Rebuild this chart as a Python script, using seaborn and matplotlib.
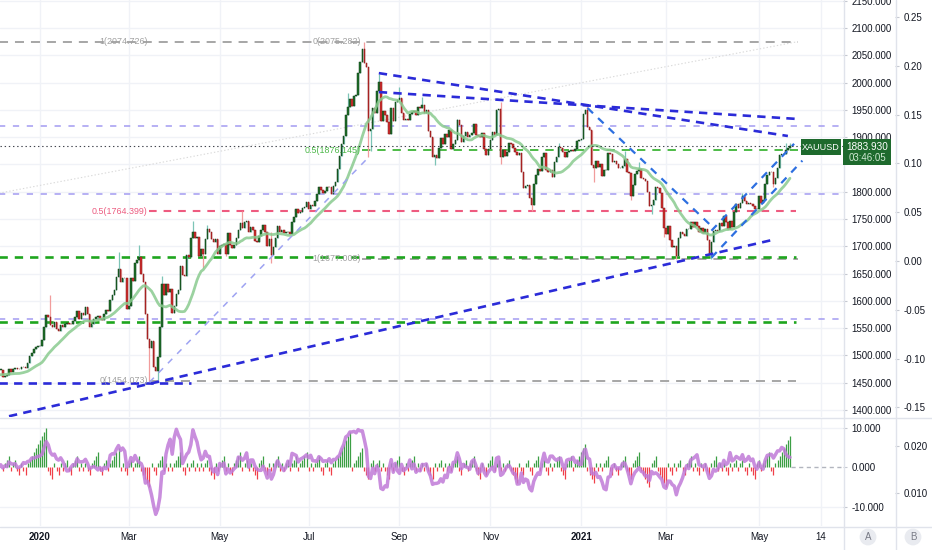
import numpy as np
import pandas as pd
import matplotlib
matplotlib.use("Agg")
import matplotlib.pyplot as plt
import seaborn as sns
from matplotlib.lines import Line2D
from matplotlib.patches import Rectangle
from matplotlib.ticker import FuncFormatter

sns.set_style("white")
plt.rcParams["font.family"] = ["Liberation Sans", "DejaVu Sans"]
plt.rcParams["lines.scale_dashes"] = False
plt.rcParams["axes.unicode_minus"] = False

# ---------------- data: XAUUSD daily closes ----------------
nov19 = [1514, 1509, 1484, 1491, 1467, 1459, 1456, 1455, 1463, 1470, 1468, 1472, 1472, 1474, 1464, 1462, 1456, 1461, 1455, 1456, 1464]
dec19 = [1463, 1477, 1474, 1474, 1460, 1462, 1464, 1475, 1470, 1476, 1477, 1476, 1475, 1479, 1478, 1477, 1486, 1499, 1505, 1511, 1515, 1517]
jan20 = [1518, 1528, 1552, 1574, 1571, 1556, 1552, 1562, 1548, 1545, 1555, 1552, 1557, 1560, 1558, 1557, 1563, 1571, 1582, 1567, 1577, 1575, 1589]
feb20 = [1576, 1553, 1557, 1567, 1570, 1572, 1567, 1565, 1576, 1584, 1581, 1601, 1611, 1620, 1643, 1659, 1634, 1642, 1641, 1585]
mar20 = [1591, 1641, 1636, 1669, 1674, 1680, 1650, 1635, 1576, 1530, 1514, 1526, 1478, 1471, 1498, 1553, 1631, 1611, 1630, 1617, 1622, 1577]
apr20 = [1591, 1613, 1620, 1663, 1647, 1646, 1684, 1680, 1715, 1727, 1716, 1717, 1683, 1695, 1686, 1713, 1731, 1727, 1713, 1707, 1713, 1686]
may20 = [1700, 1702, 1705, 1685, 1725, 1703, 1697, 1702, 1716, 1730, 1743, 1733, 1745, 1747, 1726, 1735, 1729, 1709, 1708, 1718, 1730]
jun20 = [1739, 1726, 1700, 1714, 1684, 1698, 1716, 1737, 1727, 1730, 1725, 1726, 1727, 1722, 1744, 1754, 1768, 1761, 1763, 1771, 1772, 1781]
jul20 = [1769, 1775, 1774, 1783, 1795, 1809, 1803, 1798, 1802, 1809, 1808, 1796, 1810, 1818, 1842, 1865, 1887, 1902, 1941, 1955, 1970, 1957, 1975]
aug20 = [1977, 2018, 2037, 2062, 2035, 2028, 1911, 1915, 1954, 1944, 1985, 2001, 1929, 1947, 1940, 1928, 1906, 1953, 1930, 1964, 1968]
sep20 = [1971, 1944, 1931, 1933, 1931, 1942, 1946, 1947, 1940, 1956, 1954, 1959, 1944, 1950, 1912, 1900, 1863, 1868, 1862, 1881, 1898, 1887]
oct20 = [1906, 1900, 1913, 1878, 1887, 1894, 1931, 1922, 1892, 1902, 1909, 1900, 1904, 1907, 1924, 1904, 1902, 1901, 1908, 1878, 1868, 1879]
nov20 = [1895, 1909, 1904, 1949, 1952, 1863, 1877, 1866, 1873, 1889, 1888, 1881, 1873, 1867, 1871, 1837, 1806, 1811, 1812, 1788, 1776]
dec20 = [1815, 1830, 1841, 1838, 1863, 1871, 1839, 1837, 1839, 1827, 1855, 1863, 1882, 1881, 1872, 1864, 1873, 1875, 1876, 1874, 1879, 1893, 1895]
jan21 = [1896, 1943, 1950, 1918, 1914, 1849, 1843, 1856, 1845, 1851, 1828, 1839, 1840, 1871, 1870, 1855, 1856, 1850, 1843, 1844, 1847]
feb21 = [1860, 1837, 1834, 1793, 1813, 1833, 1838, 1842, 1826, 1824, 1819, 1799, 1774, 1775, 1784, 1808, 1806, 1797, 1770, 1734]
mar21 = [1723, 1737, 1712, 1698, 1700, 1683, 1716, 1726, 1723, 1719, 1731, 1732, 1745, 1736, 1745, 1737, 1727, 1734, 1725, 1732, 1712, 1684, 1708]
apr21 = [1728, 1729, 1728, 1743, 1737, 1756, 1744, 1732, 1747, 1736, 1763, 1777, 1770, 1779, 1793, 1783, 1777, 1780, 1777, 1773, 1768, 1769]
may21 = [1792, 1779, 1785, 1815, 1831, 1837, 1836, 1815, 1826, 1843, 1867, 1869, 1870, 1876, 1881, 1883.93]

# notable wick extremes
spike_high = {"2020-01-08": 1611, "2020-02-24": 1689, "2020-03-09": 1703, "2020-03-24": 1645,
              "2020-04-14": 1747, "2020-04-23": 1739, "2020-05-18": 1765, "2020-06-05": 1727,
              "2020-07-28": 1981, "2020-08-07": 2075, "2020-08-18": 2015, "2020-09-01": 1992,
              "2020-09-16": 1973, "2020-10-09": 1933, "2020-11-09": 1965, "2020-12-17": 1890,
              "2021-01-06": 1959, "2021-02-01": 1875, "2021-02-10": 1855, "2021-04-21": 1798,
              "2021-05-20": 1890, "2021-05-24": 1889}
spike_low = {"2020-03-16": 1451, "2020-03-20": 1455, "2020-04-21": 1660, "2020-05-06": 1683,
             "2020-06-05": 1670, "2020-08-11": 1863, "2020-08-12": 1874, "2020-09-24": 1849,
             "2020-11-09": 1850, "2020-11-30": 1764, "2021-01-11": 1817, "2021-02-04": 1785,
             "2021-02-18": 1760, "2021-02-26": 1717, "2021-03-08": 1677, "2021-03-31": 1677,
             "2021-05-12": 1808}

price_ticks = list(range(1400, 2151, 50))
pct_ticks = [-0.15, -0.10, -0.05, 0.00, 0.05, 0.10, 0.15, 0.20, 0.25]
osc_ticks = [-10, 0, 10]
osc2_ticks = [0.010, 0.020]
tick_dates = ["2020-01-01", "2020-03-02", "2020-05-01", "2020-07-01", "2020-09-01",
              "2020-11-02", "2021-01-01", "2021-03-01", "2021-05-03", "2021-06-14"]
tick_labels = ["2020", "Mar", "May", "Jul", "Sep", "Nov", "2021", "Mar", "May", "14"]

# drawing tools on the chart: horizontal levels and trend lines (date, price anchors)
levels = [
    ("2019-11-15", "2021-05-28", 2074.9, "gray"),
    ("2020-03-16", "2021-05-27", 1454.073, "gray"),
    ("2020-03-16", "2021-05-27", 1764.399, "pink"),
    ("2020-08-06", "2021-05-28", 1676.5, "gray"),
    ("2020-08-06", "2021-05-28", 1876.145, "fibgreen"),
    ("2019-11-15", "2021-05-27", 1680.5, "green"),
    ("2019-11-15", "2021-05-27", 1560.5, "green"),
    ("2019-11-15", "2021-08-31", 1920.4, "lav"),
    ("2019-11-15", "2021-08-31", 1795.8, "lav"),
    ("2019-11-15", "2021-08-31", 1566.7, "lav"),
]
trends = [
    ("2019-11-15", 1450.0, "2020-04-13", 1450.0, "navy"),
    ("2019-12-11", 1388.6, "2021-05-11", 1711.2, "navy"),
    ("2020-08-18", 2017.3, "2021-05-21", 1902.1, "navy"),
    ("2020-08-18", 1982.6, "2021-05-28", 1933.2, "navy"),
    ("2020-03-16", 1451.0, "2020-08-11", 1863.0, "lavthin"),
    ("2021-01-06", 1953.4, "2021-04-01", 1733.5, "blue"),
    ("2021-03-31", 1728.6, "2021-05-26", 1887.8, "blue"),
    ("2021-03-31", 1679.2, "2021-06-01", 1857.0, "blue"),
    ("2019-12-04", 1797.2, "2021-05-27", 2074.4, "faint"),
]
fib_labels = [
    ("2020-03-16", 2074.726, "1(2074.726)", "#a0a0a0"),
    ("2020-08-06", 2075.282, "0(2075.282)", "#a0a0a0"),
    ("2020-08-06", 1876.145, "0.5(1876.145)", "#4cb848"),
    ("2020-03-16", 1764.399, "0.5(1764.399)", "#ec5c80"),
    ("2020-08-06", 1677.008, "1(1677.008)", "#a0a0a0"),
    ("2020-03-16", 1454.073, "0(1454.073)", "#a0a0a0"),
]

styles = {
    "gray": dict(color="#a6a6a6", lw=1.4, dashes=(6.5, 5)),
    "navy": dict(color="#2b2bd8", lw=1.9, dashes=(6, 4.5)),
    "green": dict(color="#1ea51e", lw=1.9, dashes=(6, 5)),
    "fibgreen": dict(color="#4dbb46", lw=1.4, dashes=(6, 5)),
    "pink": dict(color="#ee5b80", lw=1.5, dashes=(5.5, 5)),
    "lav": dict(color="#aaa3f2", lw=1.2, dashes=(4.5, 5.5)),
    "lavthin": dict(color="#9ea3f2", lw=1.1, dashes=(4.5, 5)),
    "blue": dict(color="#2d6fe0", lw=1.6, dashes=(5.5, 5)),
    "faint": dict(color="#dadada", lw=0.8, dashes=(1, 1.5)),
}

# ---------------- derived series ----------------
closes = np.array(nov19 + dec19 + jan20 + feb20 + mar20 + apr20 + may20 + jun20 + jul20 + aug20
                  + sep20 + oct20 + nov20 + dec20 + jan21 + feb21 + mar21 + apr21 + may21, dtype=float)
dates = pd.bdate_range("2019-11-01", periods=len(closes))
calendar = pd.bdate_range("2019-11-01", "2021-09-30")
origin = calendar.get_loc(pd.Timestamp("2020-01-01"))


def pos(d):
    return calendar.get_loc(pd.Timestamp(d)) - origin


xs = np.arange(len(closes)) - origin
opens = np.r_[closes[0], closes[:-1]]
up = closes >= opens
hi = np.maximum(opens, closes)
lo = np.minimum(opens, closes)
whi, wlo = hi.copy(), lo.copy()
for d, v in spike_high.items():
    i = dates.get_loc(pd.Timestamp(d)); whi[i] = max(v, hi[i])
for d, v in spike_low.items():
    i = dates.get_loc(pd.Timestamp(d)); wlo[i] = min(v, lo[i])

s = pd.Series(closes)
ma = s.rolling(20).mean()
roc = s.pct_change(10) * 100
streak = np.zeros(len(closes))
for i in range(1, len(closes)):
    d = closes[i] - closes[i - 1]
    if d > 0:
        streak[i] = streak[i - 1] + 1 if streak[i - 1] > 0 else 1
    elif d < 0:
        streak[i] = streak[i - 1] - 1 if streak[i - 1] < 0 else -1

# ---------------- layout ----------------
W, H = 932, 550
fig = plt.figure(figsize=(W / 100, H / 100), dpi=100)
fx = lambda px: px / W
fy = lambda py: 1 - py / H
PXB = 2.066  # pixels per bar
XL, XR = -40 / PXB, (843 - 40) / PXB

axm = fig.add_axes([0, fy(417), fx(843), 417 / H])
axl = fig.add_axes([0, fy(526), fx(843), 108 / H])
for a in (axm, axl):
    a.set_xlim(XL, XR)
    for sp in a.spines.values():
        sp.set_visible(False)
    a.set_facecolor("white")

axm.set_ylim(1387.2, 2151.3)
axl.set_ylim(-14.8, 12.5)

grid_c = "#f0f2f7"
tick_pos = [pos(d) for d in tick_dates]
for t in tick_pos:
    axm.axvline(t, color=grid_c, lw=1, zorder=0)
    axl.axvline(t, color=grid_c, lw=1, zorder=0)
for p in price_ticks:
    axm.axhline(p, color=grid_c, lw=1, zorder=0)
for p in [-10, 10]:
    axl.axhline(p, color=grid_c, lw=1, zorder=0)

# drawings
for d0, d1, p, st in levels:
    axm.plot([pos(d0), pos(d1)], [p, p], solid_capstyle="butt", zorder=2, **styles[st])
for d0, p0, d1, p1, st in trends:
    axm.plot([pos(d0), pos(d1)], [p0, p1], zorder=6 if st != "faint" else 1, **styles[st])
for d, p, txt, c in fib_labels:
    axm.text(pos(d) - 0.8, p, txt, ha="right", va="center", fontsize=6.4, color=c, zorder=7)

# candles
axm.vlines(xs[up], wlo[up], whi[up], color="#7cc4b6", lw=0.9, zorder=3)
axm.vlines(xs[~up], wlo[~up], whi[~up], color="#f19c9c", lw=0.9, zorder=3)
bh = np.maximum(hi - lo, 1.0)
axm.bar(xs[up], bh[up], bottom=lo[up], width=0.74, color="#1f7029", edgecolor="#0e3b17",
        linewidth=0.35, zorder=4)
axm.bar(xs[~up], bh[~up], bottom=lo[~up], width=0.74, color="#d32f2f", edgecolor="#7a1515",
        linewidth=0.35, zorder=4)

ma_df = pd.DataFrame({"x": xs, "ma": ma}).dropna()
sns.lineplot(data=ma_df, x="x", y="ma", ax=axm, color="#8acb8f", lw=2.0, alpha=0.85, zorder=5)

axm.axhline(closes[-1], color="#131722", lw=0.8, ls=(0, (1, 2)), alpha=0.8, zorder=6)

# lower oscillator panel: streak histogram + 10-day rate of change
bar_cols = np.where(streak > 0, "#3c9f45", "#f0404a")
axl.vlines(xs, 0, streak, colors=bar_cols, lw=0.9, zorder=2)
roc_df = pd.DataFrame({"x": xs, "roc": roc}).dropna()
sns.lineplot(data=roc_df, x="x", y="roc", ax=axl, color="#c07ad8", lw=2.5, alpha=0.85, zorder=3)
axl.plot([xs[-1] + 0.5, XR], [0, 0], color="#b2b5be", lw=1, dashes=(3, 2.5), zorder=1)

# axes ticks / labels
lab_c = "#131722"
axm.yaxis.tick_right()
axm.set_yticks(price_ticks)
axm.yaxis.set_major_formatter(FuncFormatter(lambda v, p: "" if v == 1850 else f"{v:.3f}"))
axm.tick_params(axis="y", labelsize=7, labelcolor=lab_c, length=3, color="#c5c8d0", pad=3)
axm.tick_params(axis="x", bottom=False, labelbottom=False)
axm.set_xlabel(""); axm.set_ylabel("")

axl.yaxis.tick_right()
axl.set_yticks(osc_ticks)
axl.yaxis.set_major_formatter(FuncFormatter(lambda v, p: f"{v:.3f}"))
axl.tick_params(axis="y", labelsize=7, labelcolor=lab_c, length=3, color="#c5c8d0", pad=3)
axl.set_xticks(tick_pos)
axl.set_xticklabels(tick_labels)
axl.tick_params(axis="x", length=0, pad=4.5, labelsize=7, labelcolor=lab_c)
for lab in axl.get_xticklabels():
    if lab.get_text() in ("2020", "2021"):
        lab.set_fontweight("bold")
axl.set_xlabel(""); axl.set_ylabel("")

# secondary right scales
axb = fig.add_axes([0, fy(417), fx(895), 417 / H])
axb.patch.set_alpha(0)
axb.set_ylim((261 - 417) / 976, 261 / 976)
axlb = fig.add_axes([0, fy(526), fx(895), 108 / H])
axlb.patch.set_alpha(0)
axlb.set_ylim(0.010 - 33 / 4700, 0.020 + 28 / 4700)
for a, tk, fmt in ((axb, pct_ticks, "{:.2f}"), (axlb, osc2_ticks, "{:.3f}")):
    for sp in a.spines.values():
        sp.set_visible(False)
    a.set_xticks([])
    a.yaxis.tick_right()
    a.set_yticks(tk)
    a.yaxis.set_major_formatter(FuncFormatter(lambda v, p, f=fmt: f.format(v)))
    a.tick_params(axis="y", labelsize=7, labelcolor=lab_c, length=3, color="#c5c8d0", pad=3)

# separators
sep_c = "#e0e3eb"
for py in (417.5, 526.5):
    fig.add_artist(Line2D([0, 1], [fy(py), fy(py)], transform=fig.transFigure, color=sep_c, lw=1))
for px in (843.5, 895.5):
    fig.add_artist(Line2D([fx(px), fx(px)], [0, 1], transform=fig.transFigure, color=sep_c, lw=1))

# last price labels
box_c = "#1e6a2d"
fig.add_artist(Rectangle((fx(801), fy(155)), fx(40), 16 / H, transform=fig.transFigure,
                         facecolor=box_c, edgecolor="none", zorder=20))
fig.text(fx(821), fy(147), "XAUUSD", ha="center", va="center", fontsize=6.5, color="white", zorder=21)
fig.add_artist(Rectangle((fx(843), fy(165)), fx(48), 26 / H, transform=fig.transFigure,
                         facecolor=box_c, edgecolor="none", zorder=20))
fig.text(fx(867), fy(146.5), f"{closes[-1]:.3f}", ha="center", va="center", fontsize=7.2,
         color="white", zorder=21)
fig.text(fx(867), fy(158), "03:46:05", ha="center", va="center", fontsize=7,
         color="#cfe8d2", zorder=21)

# scale badges
for cx, t in ((868, "A"), (913, "B")):
    fig.text(fx(cx), fy(537), t, ha="center", va="center", fontsize=7, color="#787b86",
             bbox=dict(boxstyle="circle,pad=0.35", fc="#e9ebf0", ec="none"))

fig.savefig("out.png", dpi=100, facecolor="white")
